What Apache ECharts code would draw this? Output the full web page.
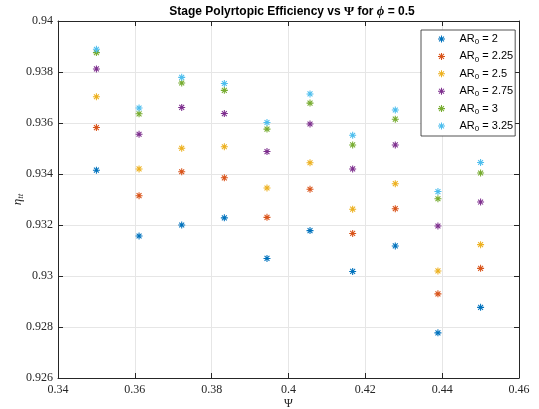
<!DOCTYPE html>
<html>
<head>
<meta charset="utf-8">
<script src="https://cdn.jsdelivr.net/npm/echarts@6/dist/echarts.min.js"></script>
<style>
  html, body { margin: 0; padding: 0; background: #fff; }
  #chart { width: 539px; height: 409px; }
</style>
</head>
<body>
<div id="chart"></div>
<script>
// Flow coefficient Psi (x positions of every column)
const psi = [0.35, 0.3611, 0.3722, 0.3833, 0.3944, 0.4056, 0.4167, 0.4278, 0.4389, 0.45];

// Aspect ratio labels
const arLabels = ['2', '2.25', '2.5', '2.75', '3', '3.25'];

// Stage polytropic efficiency, one array per aspect ratio
const eta_ar200 = [0.93415, 0.93157, 0.93200, 0.93228, 0.93069, 0.93178, 0.93018, 0.93118, 0.92777, 0.92877];
const eta_ar225 = [0.93582, 0.93315, 0.93409, 0.93385, 0.93230, 0.93340, 0.93167, 0.93264, 0.92930, 0.93030];
const eta_ar250 = [0.93703, 0.93420, 0.93501, 0.93507, 0.93345, 0.93444, 0.93262, 0.93362, 0.93020, 0.93123];
const eta_ar275 = [0.93812, 0.93556, 0.93661, 0.93637, 0.93488, 0.93596, 0.93420, 0.93514, 0.93196, 0.93290];
const eta_ar300 = [0.93876, 0.93636, 0.93757, 0.93728, 0.93576, 0.93678, 0.93514, 0.93615, 0.93303, 0.93404];
const eta_ar325 = [0.93889, 0.93659, 0.93779, 0.93755, 0.93602, 0.93714, 0.93552, 0.93651, 0.93331, 0.93445];

// Axis tick settings
const xMin = 0.34, xMax = 0.46, xStep = 0.02;
const yMin = 0.926, yMax = 0.94, yStep = 0.002;

const seriesValues = [eta_ar200, eta_ar225, eta_ar250, eta_ar275, eta_ar300, eta_ar325];
const colors = ['#0072BD', '#D95319', '#EDB120', '#7E2F8E', '#77AC30', '#4DBEEE'];

// Asterisk marker: horizontal, vertical and two diagonal strokes
const asterisk = 'path://M0 8.5L20 8.5L20 11.5L0 11.5Z' +
  'M8.5 0L11.5 0L11.5 20L8.5 20Z' +
  'M4.06 1.94L18.06 15.94L15.94 18.06L1.94 4.06Z' +
  'M18.06 4.06L4.06 18.06L1.94 15.94L15.94 1.94Z';

const axisColor = '#262626';
const serifFont = '"Liberation Serif", "DejaVu Serif", serif';
const sansFont = 'Arial, "Liberation Sans", Helvetica, sans-serif';
const fmt = v => String(+v.toFixed(3));

const names = arLabels.map(a => 'AR0 = ' + a);

const series = seriesValues.map((vals, i) => ({
  name: names[i],
  type: 'scatter',
  data: psi.map((x, j) => [x, vals[j]]),
  symbol: asterisk,
  symbolSize: 7,
  itemStyle: { color: colors[i], opacity: 1 },
  emphasis: { disabled: true },
  z: 3
}));

const chart = echarts.init(document.getElementById('chart'), null, { renderer: 'canvas' });

chart.setOption({
  animation: false,
  backgroundColor: '#ffffff',
  title: {
    text: '{b|Stage Polyrtopic Efficiency vs }{g|Ψ}{b| for }{p|ϕ}{b| = 0.5}',
    left: 287,
    textAlign: 'center',
    top: 0,
    textStyle: {
      rich: {
        b: { fontFamily: sansFont, fontWeight: 'bold', fontSize: 12, color: '#000' },
        g: { fontFamily: serifFont, fontSize: 13, color: '#000' },
        p: { fontFamily: serifFont, fontStyle: 'italic', fontSize: 13, color: '#000' }
      }
    }
  },
  legend: {
    orient: 'vertical',
    left: 421,
    top: 30,
    padding: [2, 2, 3, 17],
    itemGap: 3.4,
    itemWidth: 7,
    itemHeight: 7,
    icon: asterisk,
    backgroundColor: '#ffffff',
    borderColor: '#262626',
    borderWidth: 0.8,
    borderRadius: 0,
    selectedMode: false,
    data: names,
    formatter: name => {
      const v = name.replace('AR0 = ', '');
      return '{sp|}{a|AR}{s|0}{a| = ' + v + '}';
    },
    textStyle: {
      rich: {
        sp: { width: 9.5, lineHeight: 14 },
        a: { fontFamily: sansFont, fontSize: 11, color: '#000', lineHeight: 14 },
        s: { fontFamily: sansFont, fontSize: 8, color: '#000', padding: [6, 0, 0, 0], lineHeight: 14 }
      }
    }
  },
  grid: { left: 58, right: 20, top: 21, bottom: 31, containLabel: false, outerBoundsMode: 'none' },
  xAxis: [
    {
      type: 'value', min: xMin, max: xMax, interval: xStep,
      name: 'Ψ', nameLocation: 'middle', nameGap: 20,
      nameMoveOverlap: false,
      nameTextStyle: { fontFamily: serifFont, fontSize: 12, color: axisColor },
      axisLine: { show: true, lineStyle: { color: axisColor, width: 1 } },
      axisTick: { show: true, inside: true, length: 5, lineStyle: { color: axisColor } },
      axisLabel: { fontFamily: serifFont, fontSize: 12, color: axisColor, margin: 6, formatter: fmt },
      splitLine: { show: true, lineStyle: { color: '#e6e6e6', width: 1 } }
    },
    {
      type: 'value', min: xMin, max: xMax, interval: xStep, position: 'top',
      axisLine: { show: true, lineStyle: { color: axisColor, width: 1 } },
      axisTick: { show: true, inside: true, length: 5, lineStyle: { color: axisColor } },
      axisLabel: { show: false },
      splitLine: { show: false }
    }
  ],
  yAxis: [
    {
      type: 'value', min: yMin, max: yMax, interval: yStep,
      name: '{e|η}{t|tt}', nameLocation: 'middle', nameGap: 33, nameRotate: 90,
      nameMoveOverlap: false,
      nameTextStyle: {
        rich: {
          e: { fontFamily: serifFont, fontStyle: 'italic', fontSize: 13, color: axisColor },
          t: { fontFamily: serifFont, fontStyle: 'italic', fontSize: 9, color: axisColor, padding: [6, 0, 0, 0] }
        }
      },
      axisLine: { show: true, lineStyle: { color: axisColor, width: 1 } },
      axisTick: { show: true, inside: true, length: 5, lineStyle: { color: axisColor } },
      axisLabel: { fontFamily: serifFont, fontSize: 12, color: axisColor, margin: 5, formatter: fmt },
      splitLine: { show: true, lineStyle: { color: '#e6e6e6', width: 1 } }
    },
    {
      type: 'value', min: yMin, max: yMax, interval: yStep, position: 'right',
      axisLine: { show: true, lineStyle: { color: axisColor, width: 1 } },
      axisTick: { show: true, inside: true, length: 5, lineStyle: { color: axisColor } },
      axisLabel: { show: false },
      splitLine: { show: false }
    }
  ],
  series: series
});
</script>
</body>
</html>
